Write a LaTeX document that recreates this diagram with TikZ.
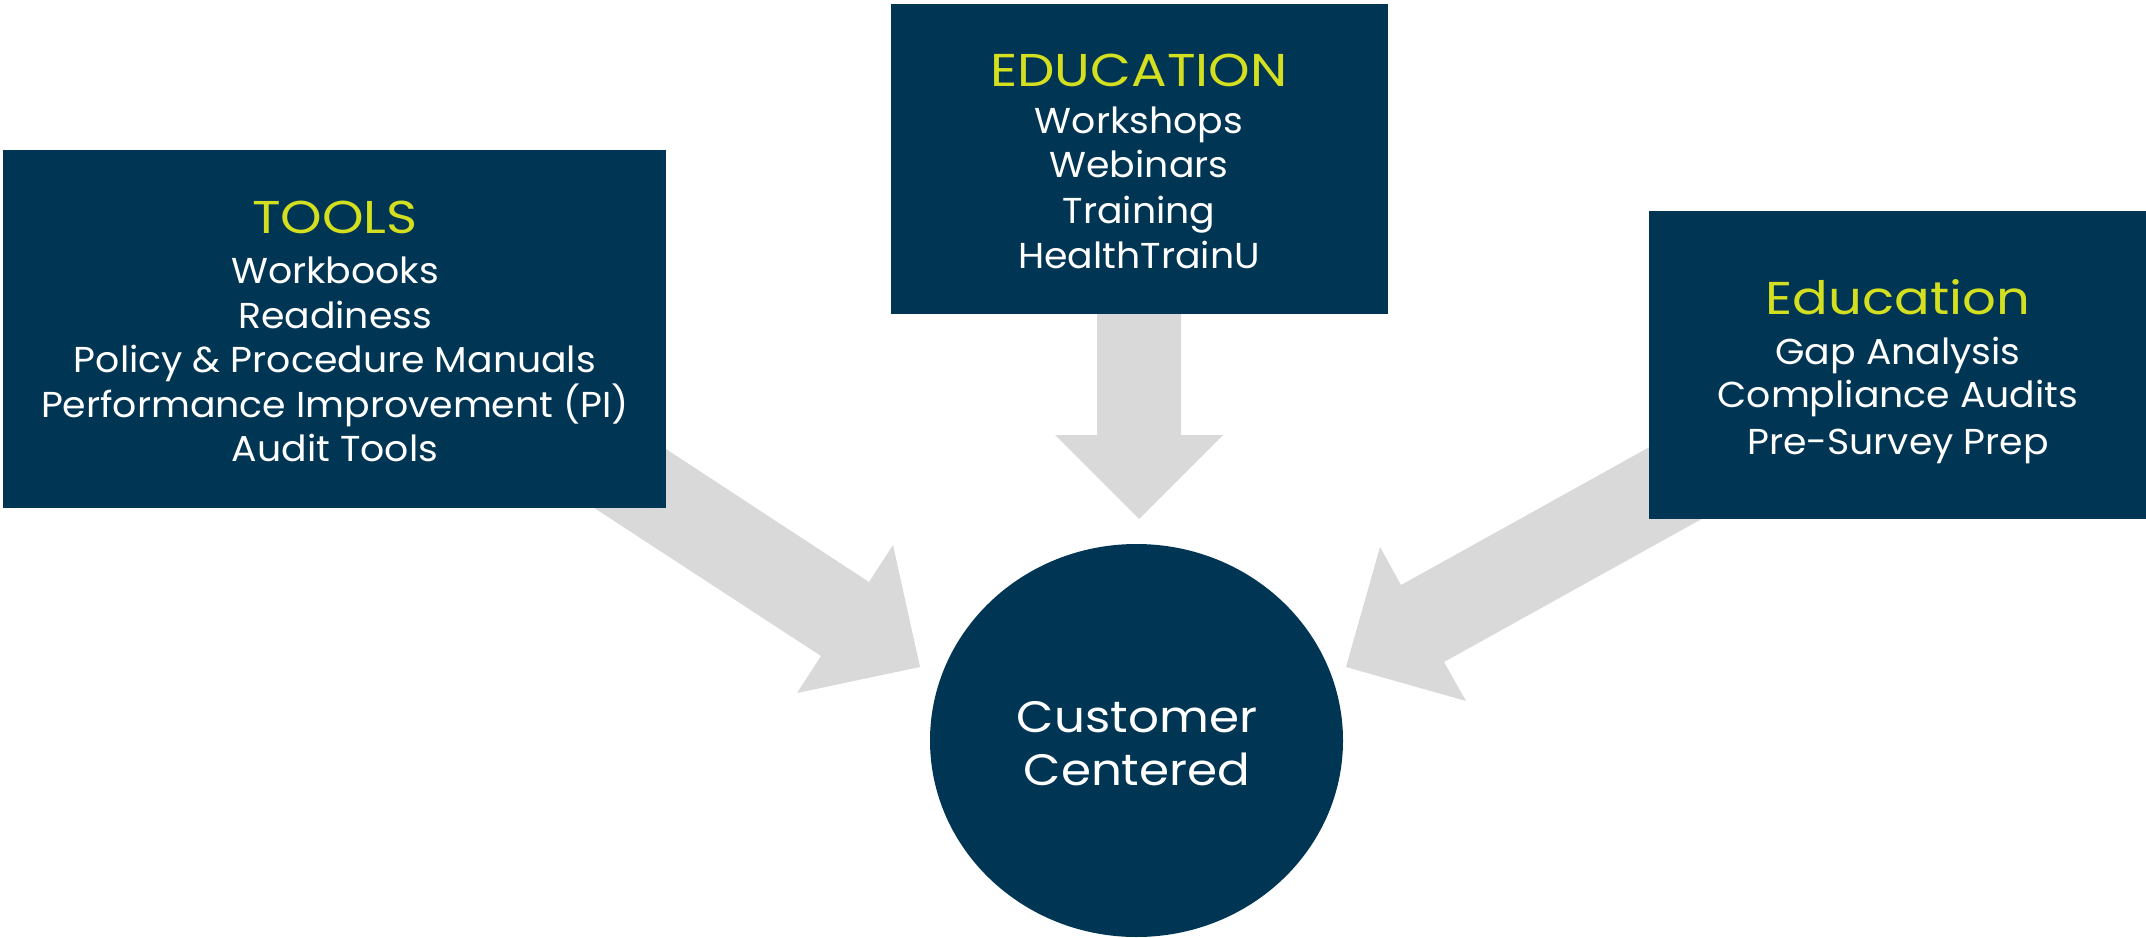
\documentclass[tikz,border=0pt]{standalone}
\usepackage{fontspec}
\setmainfont{Poppins}[FakeStretch=1.1]
\newfontfamily\bodyfont{Poppins}[FakeStretch=1.05]
\newfontfamily\titlefont{Poppins}[FakeStretch=1.15]
\usetikzlibrary{shapes.geometric}
\definecolor{navy}{RGB}{0,54,84}
\definecolor{lime}{RGB}{212,223,31}
\definecolor{arrowgray}{RGB}{217,217,217}
\begin{document}
\begin{tikzpicture}[x=1pt,y=-1pt,
  box/.style={fill=navy, draw=none, inner sep=0, anchor=north west},
  blockarrow/.style={fill=arrowgray, draw=none},
  ttl/.style={text=lime, font=\titlefont\fontsize{46}{50}\selectfont, anchor=base, inner sep=0},
  itm/.style={text=white, font=\bodyfont\fontsize{36}{40}\selectfont, anchor=base, inner sep=0},
  ctr/.style={text=white, font=\fontsize{44}{50}\selectfont, anchor=base, inner sep=0}]
\useasboundingbox (0,0) rectangle (2146,937);

% block arrows
\fill[blockarrow] (582,394) -- (869,582) -- (893,545) -- (920,667) -- (797,693) -- (821,656) -- (510,453) -- cycle;
\fill[blockarrow] (1097,300) -- (1181,300) -- (1181,435) -- (1223,435) -- (1139,519) -- (1055,435) -- (1097,435) -- cycle;
\fill[blockarrow] (1700,419) -- (1401,585) -- (1380,547) -- (1346,667) -- (1466,701) -- (1444,662) -- (1743,496) -- cycle;

% boxes
\node[box, minimum width=663, minimum height=358] (tools) at (3,150) {};
\node[box, minimum width=497, minimum height=310] (edu) at (891,4) {};
\node[box, minimum width=497, minimum height=308] (audit) at (1649,211) {};
\node[fill=navy, draw=none, ellipse, inner sep=0, minimum width=413, minimum height=393] (cust) at (1136.5,740.5) {};

% TOOLS text
\node[ttl] (t0) at (335,233) {TOOLS};
\node[itm] (t1) at (335,283) {Workbooks};
\node[itm] (t2) at (335,328) {Readiness};
\node[itm] (t3) at (335,372) {Policy \& Procedure Manuals};
\node[itm] (t4) at (335,417) {Performance Improvement (PI)};
\node[itm] (t5) at (335,461) {Audit Tools};

% EDUCATION text
\node[ttl] (e0) at (1139,86) {EDUCATION};
\node[itm] (e1) at (1139,133) {Workshops};
\node[itm] (e2) at (1139,177) {Webinars};
\node[itm] (e3) at (1139,223) {Training};
\node[itm] (e4) at (1139,268) {HealthTrainU};

% Education (right) text
\node[ttl] (a0) at (1898,314) {Education};
\node[itm] (a1) at (1898,364) {Gap Analysis};
\node[itm] (a2) at (1898,407) {Compliance Audits};
\node[itm] (a3) at (1898,454) {Pre-Survey Prep};

% centre text
\node[ctr] (c1) at (1137,732) {Customer};
\node[ctr] (c2) at (1137,785) {Centered};
\end{tikzpicture}
\end{document}
